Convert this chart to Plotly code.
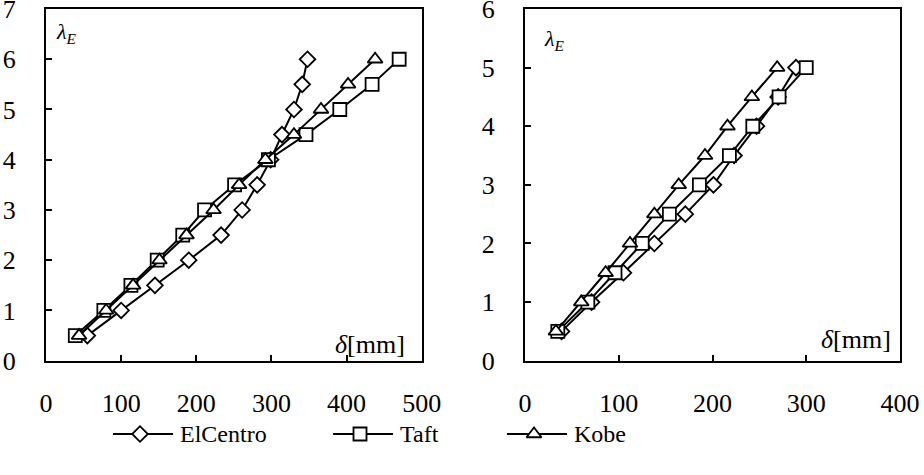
import plotly.graph_objects as go

# ---------------- data ----------------
lam_left = [0.5, 1.0, 1.5, 2.0, 2.5, 3.0, 3.5, 4.0, 4.5, 5.0, 5.5, 6.0]
elcentro_left = [55, 100, 145, 190, 233, 261, 281, 299, 314, 330, 341, 348]
taft_left = [39, 77, 113, 148, 182, 211, 251, 296, 346, 391, 434, 470]
kobe_left = [44, 80, 116, 151, 187, 223, 257, 292, 330, 366, 402, 438]

lam_right = [0.5, 1.0, 1.5, 2.0, 2.5, 3.0, 3.5, 4.0, 4.5, 5.0]
elcentro_right = [39, 71, 105, 138, 171, 201, 223, 247, 270, 289]
taft_right = [35, 67, 96, 125, 154, 186, 218, 243, 271, 300]
kobe_right = [33, 60, 86, 112, 138, 164, 192, 216, 242, 269]

series_names = ["ElCentro", "Taft", "Kobe"]
symbols = ["diamond", "square", "triangle-up"]

x_ticks_left = [0, 100, 200, 300, 400, 500]
y_ticks_left = [0, 1, 2, 3, 4, 5, 6, 7]
x_ticks_right = [0, 100, 200, 300, 400]
y_ticks_right = [0, 1, 2, 3, 4, 5, 6]

# ---------------- layout geometry ----------------
W, H = 924, 475
ml, mr, mt, mb = 46, 24, 9, 10
pw, ph = W - ml - mr, H - mt - mb


def fx(p):
    return (p - ml) / pw


def fy(p):
    return (H - mb - p) / ph


FONT = "Liberation Serif"
mk_size = {"diamond": 12, "square": 13, "triangle-up": 13}

fig = go.Figure()

left = [elcentro_left, taft_left, kobe_left]
right = [elcentro_right, taft_right, kobe_right]
for i, name in enumerate(series_names):
    fig.add_trace(go.Scatter(
        x=left[i], y=lam_left, mode="lines+markers", name=name,
        line=dict(color="black", width=2),
        marker=dict(symbol=symbols[i], size=mk_size[symbols[i]], color="white",
                    line=dict(color="black", width=1.8)),
        xaxis="x", yaxis="y", showlegend=False))
for i, name in enumerate(series_names):
    fig.add_trace(go.Scatter(
        x=right[i], y=lam_right, mode="lines+markers", name=name,
        line=dict(color="black", width=2),
        marker=dict(symbol=symbols[i], size=mk_size[symbols[i]], color="white",
                    line=dict(color="black", width=1.8)),
        xaxis="x2", yaxis="y2", showlegend=False))

# ---------------- manual legend ----------------
leg_starts = [113, 333, 507]
leg_len = 60
for i, name in enumerate(series_names):
    s = leg_starts[i]
    fig.add_trace(go.Scatter(
        x=[s, s + leg_len], y=[0, 0], mode="lines",
        line=dict(color="black", width=2.2),
        xaxis="x3", yaxis="y3", showlegend=False, hoverinfo="skip"))
    fig.add_trace(go.Scatter(
        x=[s + 27], y=[0], mode="markers",
        marker=dict(symbol=symbols[i], size=mk_size[symbols[i]], color="white",
                    line=dict(color="black", width=1.8)),
        xaxis="x3", yaxis="y3", showlegend=False, hoverinfo="skip"))
    fig.add_annotation(x=s + leg_len + 5, y=0, xref="x3", yref="y3",
                       text=name, showarrow=False, xanchor="left", yanchor="middle",
                       font=dict(family=FONT, size=24, color="black"))

axis_common = dict(showline=True, linecolor="black", linewidth=2, mirror=True,
                   ticks="inside", ticklen=6, tickwidth=1.5, tickcolor="black",
                   showgrid=False, zeroline=False, ticklabeloverflow="allow",
                   automargin=False,
                   tickfont=dict(family=FONT, size=26, color="black"))

ydom = [fy(360.7), 1.0]
fig.update_layout(
    template="none",
    width=W, height=H,
    margin=dict(l=ml, r=mr, t=mt, b=mb, autoexpand=False),
    paper_bgcolor="white", plot_bgcolor="white",
    font=dict(family=FONT, color="black"),
    xaxis=dict(domain=[0, fx(421.7)], range=[0, 500], tickvals=x_ticks_left,
               anchor="y", ticklabelstandoff=18, **axis_common),
    yaxis=dict(domain=ydom, range=[0, 7], tickvals=y_ticks_left,
               anchor="x", ticklabelstandoff=23, **axis_common),
    xaxis2=dict(domain=[fx(525), 1.0], range=[0, 400], tickvals=x_ticks_right,
                anchor="y2", ticklabelstandoff=18, **axis_common),
    yaxis2=dict(domain=ydom, range=[0, 6], tickvals=y_ticks_right,
                anchor="x2", ticklabelstandoff=23, **axis_common),
    xaxis3=dict(domain=[0, 1], range=[ml, W - mr], visible=False, anchor="y3",
                automargin=False),
    yaxis3=dict(domain=[0, 2 * fy(434)], range=[-1, 1], visible=False, anchor="x3",
                automargin=False),
    showlegend=False,
)

# axis labels inside plots
for xr, yr, lx, ly, dx, dy in [("x domain", "y domain", 0.022, 0.978, 0.96, 0.045),
                               ("x2 domain", "y2 domain", 0.045, 0.958, 0.98, 0.06)]:
    fig.add_annotation(x=lx, y=ly, xref=xr, yref=yr, showarrow=False,
                       text="<i>λ</i><sub><i>E</i></sub>", xanchor="left", yanchor="top",
                       font=dict(family=FONT, size=22, color="black"))
    fig.add_annotation(x=dx, y=dy, xref=xr, yref=yr, showarrow=False,
                       text="<i>δ</i>[mm]", xanchor="right", yanchor="middle",
                       font=dict(family=FONT, size=26, color="black"))

fig.write_html("out.html")
